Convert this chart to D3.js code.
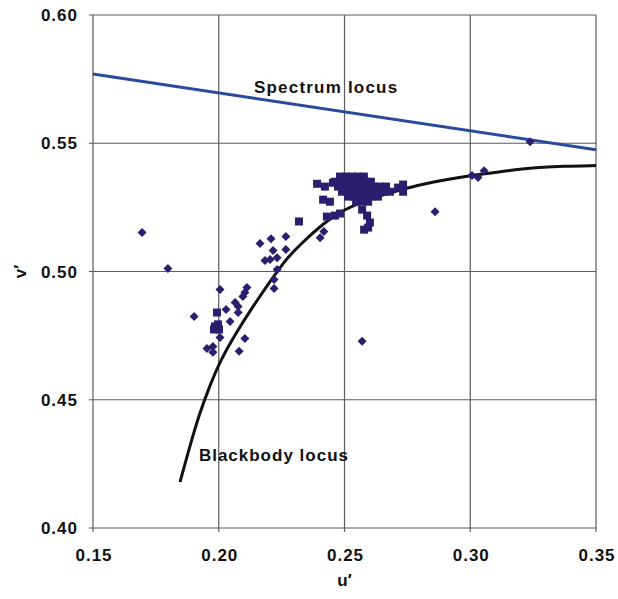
<!DOCTYPE html>
<html>
<head>
<meta charset="utf-8">
<script src="https://cdn.jsdelivr.net/npm/d3@7"></script>
<style>
  body { margin: 0; background: #fff; }
  text { font-family: "Liberation Sans", Arial, sans-serif; font-weight: bold; fill: #111; }
</style>
</head>
<body>
<div id="chart"></div>
<script>
var width = 618, height = 599;
var margins = { top: 15, right: 22, bottom: 71, left: 93 };

var xTicks = [0.15, 0.20, 0.25, 0.30, 0.35];
var yTicks = [0.40, 0.45, 0.50, 0.55, 0.60];

// spectrum locus, nearly straight across this window
var spectrumU = [0.15, 0.35];
var spectrumV = [0.577, 0.5475];

// blackbody (Planckian) locus
var blackbodyU = [0.1846, 0.1886, 0.1925, 0.1965, 0.2005, 0.2065, 0.2136, 0.2204, 0.2263, 0.2323, 0.2415, 0.2494, 0.2613, 0.2721, 0.2852, 0.2999, 0.3118, 0.3250, 0.3369, 0.35];
var blackbodyV = [0.4179, 0.4323, 0.4451, 0.4556, 0.4650, 0.4755, 0.4864, 0.4961, 0.5043, 0.5105, 0.5187, 0.5241, 0.5288, 0.5319, 0.5350, 0.5374, 0.5389, 0.5405, 0.5411, 0.5413];

// measured sources, diamond markers
var diamondU = [0.1695, 0.1798, 0.1902, 0.2570, 0.2860, 0.3238, 0.3007, 0.3031, 0.3055, 0.2164, 0.2208, 0.2267, 0.2216, 0.2267, 0.2184, 0.2204, 0.2232, 0.2232, 0.2220, 0.2220, 0.2005, 0.2112, 0.2104, 0.2096, 0.2065, 0.2077, 0.2029, 0.2077, 0.2045, 0.2005, 0.2104, 0.1953, 0.1977, 0.1977, 0.2081, 0.2403, 0.2418];
var diamondV = [0.5152, 0.5012, 0.4825, 0.4728, 0.5233, 0.5506, 0.5374, 0.5366, 0.5393, 0.5109, 0.5128, 0.5136, 0.5082, 0.5086, 0.5043, 0.5047, 0.5054, 0.5008, 0.4969, 0.4934, 0.4930, 0.4938, 0.4918, 0.4903, 0.4879, 0.4864, 0.4852, 0.4840, 0.4805, 0.4743, 0.4739, 0.4700, 0.4708, 0.4685, 0.4689, 0.5132, 0.5156];

// measured sources, square markers
var squareU = [0.1993, 0.1985, 0.1997, 0.2001, 0.1981, 0.2319, 0.2391, 0.2422, 0.2454, 0.2415, 0.2442, 0.2430, 0.2462, 0.2482, 0.2570, 0.2590, 0.2601, 0.2578, 0.2594, 0.2733, 0.2733, 0.2713,
  0.2482, 0.2506, 0.2530, 0.2553, 0.2577,
  0.2462, 0.2486, 0.2510, 0.2534, 0.2558, 0.2581, 0.2605,
  0.2474, 0.2498, 0.2522, 0.2546, 0.2570, 0.2593, 0.2617, 0.2641, 0.2665,
  0.2490, 0.2514, 0.2538, 0.2562, 0.2586, 0.2609, 0.2633, 0.2657, 0.2681,
  0.2514, 0.2538, 0.2562, 0.2586, 0.2609, 0.2633,
  0.2546, 0.2570, 0.2594];
var squareV = [0.4840, 0.4786, 0.4794, 0.4774, 0.4774, 0.5195, 0.5342, 0.5331, 0.5346, 0.5280, 0.5272, 0.5214, 0.5218, 0.5226, 0.5241, 0.5218, 0.5191, 0.5163, 0.5171, 0.5339, 0.5311, 0.5327,
  0.5370, 0.5370, 0.5370, 0.5370, 0.5370,
  0.5350, 0.5350, 0.5350, 0.5350, 0.5350, 0.5350, 0.5350,
  0.5331, 0.5331, 0.5331, 0.5331, 0.5331, 0.5331, 0.5331, 0.5331, 0.5331,
  0.5311, 0.5311, 0.5311, 0.5311, 0.5311, 0.5311, 0.5311, 0.5311, 0.5311,
  0.5292, 0.5292, 0.5292, 0.5292, 0.5292, 0.5292,
  0.5272, 0.5272, 0.5272];

var zip = function(us, vs) { return us.map((u, i) => ({ u: u, v: vs[i] })); };

var chartWidth = width - margins.left - margins.right;
var chartHeight = height - margins.top - margins.bottom;

var xScale = d3.scaleLinear().domain([0.15, 0.35]).range([0, chartWidth]);
var yScale = d3.scaleLinear().domain([0.40, 0.60]).range([chartHeight, 0]);

var svg = d3.select("#chart").append("svg")
  .attr("width", width)
  .attr("height", height);

var chartElement = svg.append("g")
  .attr("transform", "translate(" + margins.left + "," + margins.top + ")");

// grid
chartElement.selectAll(".grid-x")
  .data(xTicks).join("line")
  .attr("class", "grid-x")
  .attr("x1", d => xScale(d)).attr("x2", d => xScale(d))
  .attr("y1", 0).attr("y2", chartHeight + 4)
  .style("stroke", "#5a5a5a").style("stroke-width", 1.2);

chartElement.selectAll(".grid-y")
  .data(yTicks).join("line")
  .attr("class", "grid-y")
  .attr("x1", -4).attr("x2", chartWidth)
  .attr("y1", d => yScale(d)).attr("y2", d => yScale(d))
  .style("stroke", "#5a5a5a").style("stroke-width", 1.2);

// tick labels
chartElement.selectAll(".y-label")
  .data(yTicks).join("text")
  .attr("class", "y-label")
  .attr("x", -15)
  .attr("y", d => yScale(d))
  .attr("dy", "0.36em")
  .attr("text-anchor", "end")
  .style("font-size", "17px")
  .style("letter-spacing", "1px")
  .text(d => d3.format(".2f")(d));

chartElement.selectAll(".x-label")
  .data(xTicks).join("text")
  .attr("class", "x-label")
  .attr("x", d => xScale(d) + 1)
  .attr("y", chartHeight + 27)
  .attr("dy", "0.36em")
  .attr("text-anchor", "middle")
  .style("font-size", "17px")
  .style("letter-spacing", "1px")
  .text(d => d3.format(".2f")(d));

// axis titles
chartElement.append("text")
  .attr("x", xScale(0.25))
  .attr("y", chartHeight + 52)
  .attr("dy", "0.36em")
  .attr("text-anchor", "middle")
  .style("font-size", "17px")
  .text("u\u2032");

chartElement.append("text")
  .attr("transform", "translate(" + (-73) + "," + yScale(0.50) + ") rotate(-90)")
  .attr("dy", "0.36em")
  .attr("text-anchor", "middle")
  .style("font-size", "17px")
  .text("v\u2032");

var line = d3.line()
  .x(d => xScale(d.u))
  .y(d => yScale(d.v));

chartElement.append("path")
  .datum(zip(spectrumU, spectrumV))
  .attr("d", line)
  .style("fill", "none")
  .style("stroke", "#2b4a9e")
  .style("stroke-width", 3);

chartElement.append("path")
  .datum(zip(blackbodyU, blackbodyV))
  .attr("d", line.curve(d3.curveBasis))
  .style("fill", "none")
  .style("stroke", "#111")
  .style("stroke-width", 3);

var markColor = "#2c1e6e";

chartElement.selectAll(".square")
  .data(zip(squareU, squareV)).join("rect")
  .attr("class", "square")
  .attr("x", d => xScale(d.u) - 4)
  .attr("y", d => yScale(d.v) - 4)
  .attr("width", 8)
  .attr("height", 8)
  .style("fill", markColor);

chartElement.selectAll(".diamond")
  .data(zip(diamondU, diamondV)).join("path")
  .attr("class", "diamond")
  .attr("transform", d => "translate(" + xScale(d.u) + "," + yScale(d.v) + ")")
  .attr("d", "M0,-4.5L4.5,0L0,4.5L-4.5,0Z")
  .style("fill", markColor);

// annotations
chartElement.append("text")
  .attr("x", xScale(0.2140))
  .attr("y", yScale(0.5720))
  .attr("dy", "0.36em")
  .style("font-size", "17px")
  .style("letter-spacing", "1.2px")
  .text("Spectrum locus");

chartElement.append("text")
  .attr("x", xScale(0.1921))
  .attr("y", yScale(0.4284))
  .attr("dy", "0.36em")
  .style("font-size", "17px")
  .style("letter-spacing", "1px")
  .text("Blackbody locus");
</script>
</body>
</html>
